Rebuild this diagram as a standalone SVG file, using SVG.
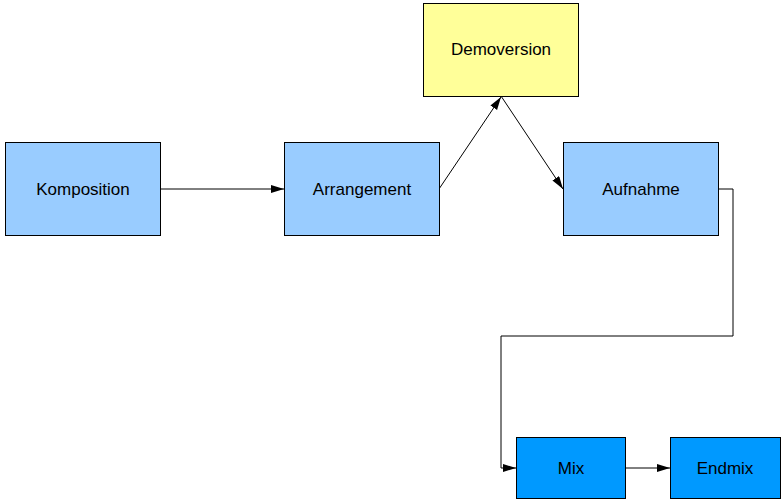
<svg xmlns="http://www.w3.org/2000/svg" width="783" height="503" viewBox="0 0 783 503">
<style>
.n{stroke:#000;stroke-width:1}
.t{font-family:"Liberation Sans",Arial,sans-serif;font-size:17px;text-anchor:middle;dominant-baseline:central;fill:#000}
.c{fill:none;stroke:#000;stroke-width:1;marker-end:url(#a)}
</style>
<defs><marker id="a" markerWidth="14" markerHeight="10" refX="13" refY="4" orient="auto" markerUnits="userSpaceOnUse"><path d="M0,0 L13,4 L0,8 z" fill="#000"/></marker></defs>
<rect width="783" height="503" fill="#fff"/>
<g id="connectors">
<path class="c" d="M160,189 H284"/>
<path class="c" d="M439,189 L501,97"/>
<path class="c" d="M501,96 L563,189"/>
<path class="c" d="M718,189 H733 V336 H501 V468 H516"/>
<path class="c" d="M625,468 H670"/>
</g>
<g id="komposition"><rect class="n" x="5.5" y="142.5" width="155" height="93" fill="#99ccff"/><text class="t" x="83" y="189">Komposition</text></g>
<g id="arrangement"><rect class="n" x="284.5" y="142.5" width="155" height="93" fill="#99ccff"/><text class="t" x="362" y="189">Arrangement</text></g>
<g id="demoversion"><rect class="n" x="423.5" y="3.5" width="155" height="93" fill="#ffff99"/><text class="t" x="501" y="49">Demoversion</text></g>
<g id="aufnahme"><rect class="n" x="563.5" y="142.5" width="155" height="93" fill="#99ccff"/><text class="t" x="641" y="189">Aufnahme</text></g>
<g id="mix"><rect class="n" x="516.5" y="437.5" width="109" height="61" fill="#0099ff"/><text class="t" x="571" y="468">Mix</text></g>
<g id="endmix"><rect class="n" x="670.5" y="437.5" width="110" height="61" fill="#0099ff"/><text class="t" x="725" y="468">Endmix</text></g>
</svg>
